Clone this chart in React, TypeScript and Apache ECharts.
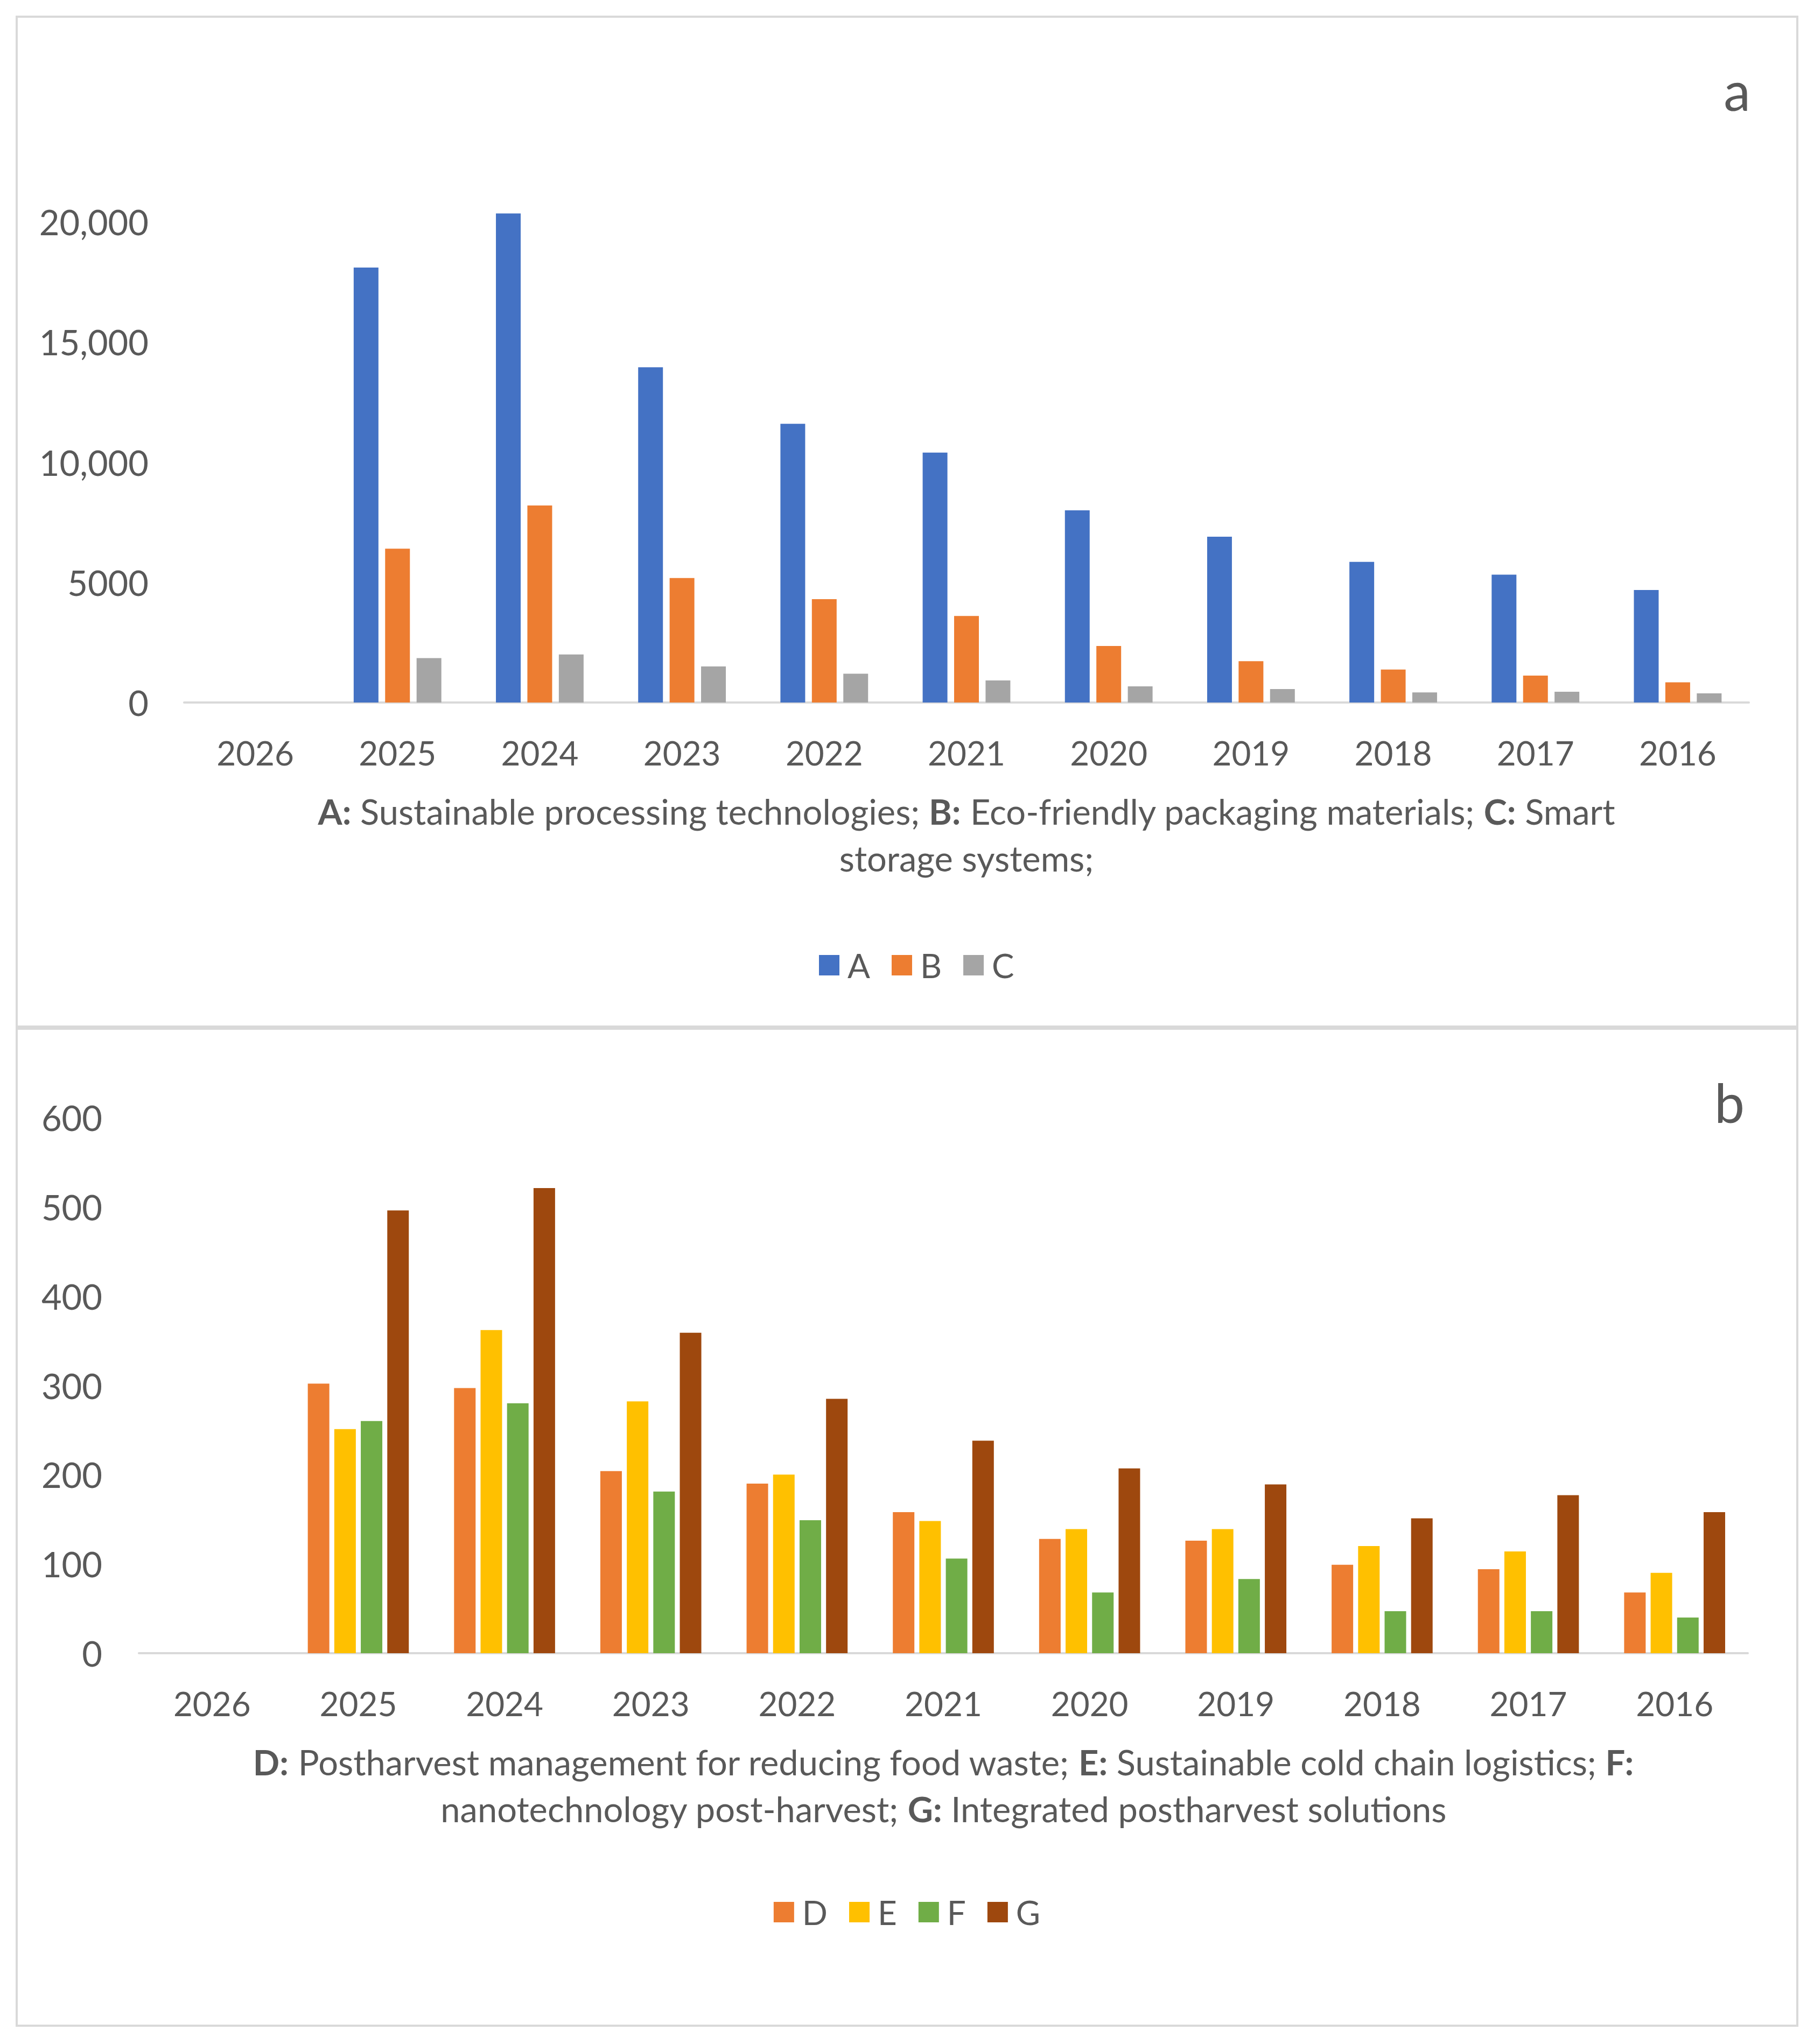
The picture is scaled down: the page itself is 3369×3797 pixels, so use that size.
import React, { useEffect, useRef } from "react";
import * as echarts from "echarts";

const years = ["2026", "2025", "2024", "2023", "2022", "2021", "2020", "2019", "2018", "2017", "2016"];

const seriesA = [0, 18100, 20350, 13950, 11600, 10400, 8000, 6900, 5850, 5320, 4680];
const seriesB = [0, 6400, 8200, 5180, 4300, 3600, 2350, 1720, 1370, 1120, 840];
const seriesC = [0, 1850, 2000, 1500, 1200, 920, 670, 560, 420, 450, 380];

const seriesD = [0, 302, 297, 204, 190, 158, 128, 126, 99, 94, 68];
const seriesE = [0, 251, 362, 282, 200, 148, 139, 139, 120, 114, 90];
const seriesF = [0, 260, 280, 181, 149, 106, 68, 83, 47, 47, 40];
const seriesG = [0, 496, 521, 359, 285, 238, 207, 189, 151, 177, 158];

const topTicks = [0, 5000, 10000, 15000, 20000];
const bottomTicks = [0, 100, 200, 300, 400, 500, 600];

const TEXT = "#595959";
const FONT = "Lato";
const W = 3369;
const H = 3797;

function fmtTop(v: number) {
  if (!topTicks.includes(v)) return "";
  return v >= 10000 ? v.toLocaleString("en-US") : String(v);
}

function fmtBottom(v: number) {
  return bottomTicks.includes(v) ? String(v) : "";
}

export default function App() {
  const ref = useRef<HTMLDivElement>(null);
  useEffect(() => {
    if (!ref.current) return;
    const chart = echarts.init(ref.current, undefined, { renderer: "svg" });
    const xLabel = { color: TEXT, fontFamily: FONT, fontSize: 62 };
    const yLabel = { color: TEXT, fontFamily: FONT, fontSize: 65 };
    const subStyle = (text: string, x: number, y: number) => ({
      type: "text", x, y,
      style: {
        text,
        fill: TEXT, fontFamily: FONT, fontSize: 65, lineHeight: 87, align: "center", verticalAlign: "top",
        rich: { b: { fill: TEXT, fontFamily: FONT, fontSize: 65, fontWeight: "bold", lineHeight: 87 } },
      },
    });
    const option: any = {
      animation: false,
      backgroundColor: "#ffffff",
      textStyle: { fontFamily: FONT },
      grid: [
        { left: 342, right: W - 3248, top: 1305 - 1116, bottom: H - 1305, containLabel: false },
        { left: 258, right: W - 3246, top: 2076, bottom: H - 3071, containLabel: false },
      ],
      xAxis: [
        {
          type: "category", gridIndex: 0, data: years,
          axisLine: { lineStyle: { color: "#D9D9D9", width: 4 } },
          axisTick: { show: false },
          axisLabel: { ...xLabel, margin: 62 },
        },
        {
          type: "category", gridIndex: 1, data: years,
          axisLine: { lineStyle: { color: "#D9D9D9", width: 4 } },
          axisTick: { show: false },
          axisLabel: { ...xLabel, margin: 62 },
        },
      ],
      yAxis: [
        {
          type: "value", gridIndex: 0, min: 0, max: 25000, interval: 5000,
          axisLine: { show: false }, axisTick: { show: false }, splitLine: { show: false },
          axisLabel: { ...yLabel, margin: 66, formatter: fmtTop },
        },
        {
          type: "value", gridIndex: 1, min: 0, max: 600, interval: 100,
          axisLine: { show: false }, axisTick: { show: false }, splitLine: { show: false },
          axisLabel: { ...yLabel, margin: 68, formatter: fmtBottom },
        },
      ],
      legend: [
        {
          data: ["A", "B", "C"], left: 1516, top: 1757,
          icon: "rect", itemWidth: 38, itemHeight: 38, itemGap: 40,
          textStyle: { color: TEXT, fontFamily: FONT, fontSize: 62, padding: [0, 0, 0, 10] },
        },
        {
          data: ["D", "E", "F", "G"], left: "center", top: 3516,
          icon: "rect", itemWidth: 38, itemHeight: 38, itemGap: 40,
          textStyle: { color: TEXT, fontFamily: FONT, fontSize: 62, padding: [0, 0, 0, 10] },
        },
      ],
      series: [
        { name: "A", type: "bar", xAxisIndex: 0, yAxisIndex: 0, data: seriesA, barWidth: 46, barGap: "27%", itemStyle: { color: "#4472C4" } },
        { name: "B", type: "bar", xAxisIndex: 0, yAxisIndex: 0, data: seriesB, barWidth: 46, barGap: "27%", itemStyle: { color: "#ED7D31" } },
        { name: "C", type: "bar", xAxisIndex: 0, yAxisIndex: 0, data: seriesC, barWidth: 46, barGap: "27%", itemStyle: { color: "#A5A5A5" } },
        { name: "D", type: "bar", xAxisIndex: 1, yAxisIndex: 1, data: seriesD, barWidth: 40, barGap: "23%", itemStyle: { color: "#ED7D31" } },
        { name: "E", type: "bar", xAxisIndex: 1, yAxisIndex: 1, data: seriesE, barWidth: 40, barGap: "23%", itemStyle: { color: "#FFC000" } },
        { name: "F", type: "bar", xAxisIndex: 1, yAxisIndex: 1, data: seriesF, barWidth: 40, barGap: "23%", itemStyle: { color: "#70AD47" } },
        { name: "G", type: "bar", xAxisIndex: 1, yAxisIndex: 1, data: seriesG, barWidth: 40, barGap: "23%", itemStyle: { color: "#9E480E" } },
      ],
      graphic: [
        { type: "rect", shape: { x: 31, y: 31, width: 3307, height: 1876 }, style: { fill: "none", stroke: "#D9D9D9", lineWidth: 4 }, silent: true },
        { type: "rect", shape: { x: 31, y: 1911, width: 3307, height: 1852 }, style: { fill: "none", stroke: "#D9D9D9", lineWidth: 4 }, silent: true },
        { type: "text", x: 3226, y: 167, style: { text: "a", fill: TEXT, fontFamily: FONT, fontSize: 100, align: "center", verticalAlign: "middle" } },
        { type: "text", x: 3212, y: 2047, style: { text: "b", fill: TEXT, fontFamily: FONT, fontSize: 100, align: "center", verticalAlign: "middle" } },
        subStyle(
          "{b|A:} Sustainable processing technologies; {b|B:} Eco-friendly packaging materials; {b|C:} Smart\nstorage systems;",
          1795, 1506 - 43
        ),
        subStyle(
          "{b|D:} Postharvest management for reducing food waste; {b|E:} Sustainable cold chain logistics; {b|F:}\nnanotechnology post-harvest; {b|G:} Integrated postharvest solutions",
          1752, 3272 - 43
        ),
      ],
    };
    chart.setOption(option);
    return () => chart.dispose();
  }, []);
  return <div ref={ref} style={{ position: "absolute", left: 0, top: 0, width: W, height: H }} />;
}
